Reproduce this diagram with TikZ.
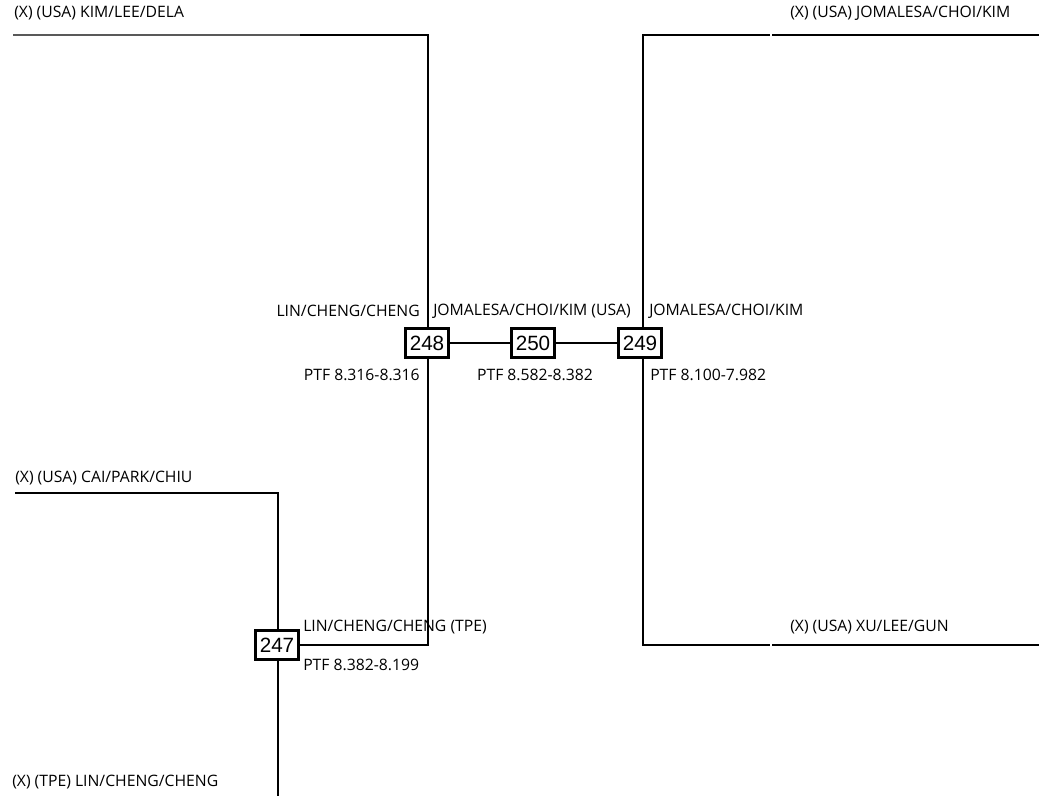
\documentclass[tikz,border=0pt]{standalone}
\usepackage{fontspec}
\setmainfont{Open Sans}
\newfontfamily\boxfont{Liberation Sans}
\begin{document}
\begin{tikzpicture}[x=0.75pt,y=-0.75pt,
  lbl/.style={inner sep=0pt,font=\fontsize{11.8}{13}\selectfont},
  matchbox/.style={draw,line width=2.2pt,minimum width=32pt,minimum height=22pt,inner sep=0pt,font=\boxfont\fontsize{15.5}{17}\selectfont},
  wire/.style={line width=1.4pt},
  fade/.style={line width=1.2pt,draw=black!65}]
\useasboundingbox (0,0) rectangle (1039,796);
% boxes
\node[matchbox] (b248) at (427,343) {248};
\node[matchbox] (b250) at (533,343) {250};
\node[matchbox] (b249) at (640,343) {249};
\node[matchbox] (b247) at (277,645) {247};
% coordinates
\coordinate (tlA) at (13,35);
\coordinate (tlB) at (300,35);
\coordinate (tlC) at (428,35);
\coordinate (m248) at (428,645);
\coordinate (cpA) at (15,493);
\coordinate (cpB) at (278,493);
\coordinate (bot) at (278,796);
\coordinate (trA) at (643,35);
\coordinate (trB) at (770,35);
\coordinate (trC) at (772,35);
\coordinate (trD) at (1039,35);
\coordinate (brA) at (643,645);
\coordinate (brB) at (770,645);
\coordinate (brC) at (772,645);
\coordinate (brD) at (1039,645);
% wires
\draw[fade] (tlA) -- (tlB);
\draw[wire] (tlB) -- (tlC) -- (b248.north -| tlC);
\draw[wire] (b248.south -| tlC) -- (m248) -- (b247.east |- m248);
\draw[wire] (b248) -- (b250) -- (b249);
\draw[wire] (cpA) -- (cpB) -- (b247.north -| cpB);
\draw[wire] (b247.south -| cpB) -- (bot);
\draw[wire] (trD) -- (trC);
\draw[wire] (trB) -- (trA) -- (b249.north -| trA);
\draw[wire] (b249.south -| trA) -- (brA) -- (brB);
\draw[wire] (brC) -- (brD);
% labels
\node[lbl,anchor=west] (t1) at (14,13) {(X) (USA) KIM/LEE/DELA};
\node[lbl,anchor=west] (t2) at (790,13) {(X) (USA) JOMALESA/CHOI/KIM};
\node[lbl,anchor=east] (t3) at (420,311) {LIN/CHENG/CHENG};
\node[lbl,anchor=west] (t4) at (433,311) {JOMALESA/CHOI/KIM (USA)};
\node[lbl,anchor=west] (t5) at (649,311) {JOMALESA/CHOI/KIM};
\node[lbl,anchor=east] (t6) at (420,375) {PTF 8.316-8.316};
\node[lbl] (t7) at (535,375) {PTF 8.582-8.382};
\node[lbl,anchor=west] (t8) at (650,375) {PTF 8.100-7.982};
\node[lbl,anchor=west] (t9) at (15,478) {(X) (USA) CAI/PARK/CHIU};
\node[lbl,anchor=west] (t10) at (303,627) {LIN/CHENG/CHENG (TPE)};
\node[lbl,anchor=west] (t11) at (303,665) {PTF 8.382-8.199};
\node[lbl,anchor=west] (t12) at (12,782) {(X) (TPE) LIN/CHENG/CHENG};
\node[lbl,anchor=west] (t13) at (790,627) {(X) (USA) XU/LEE/GUN};
\end{tikzpicture}
\end{document}
